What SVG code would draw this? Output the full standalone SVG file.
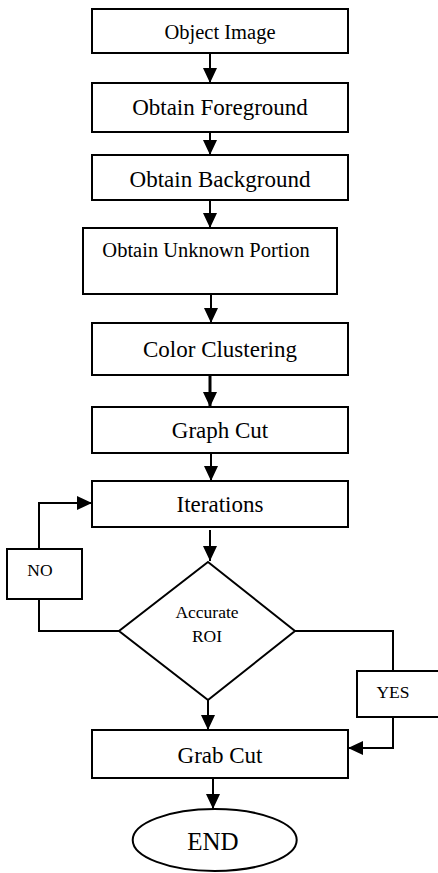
<svg xmlns="http://www.w3.org/2000/svg" width="438" height="873" viewBox="0 0 438 873">
<defs>
<style>
.b{fill:#fff;stroke:#000;stroke-width:2}
.t{font-family:"Liberation Serif","Times New Roman",serif;fill:#000;text-anchor:middle}
.c{fill:none;stroke:#000;stroke-width:2}
</style>
<marker id="ah" markerUnits="userSpaceOnUse" markerWidth="16" markerHeight="16" viewBox="0 0 16 16" refX="15" refY="8" orient="auto">
<path d="M0,1 L15,8 L0,15 Z" fill="#000"/>
</marker>
</defs>
<rect width="438" height="873" fill="#fff"/>
<g id="connectors">
<line class="c" x1="210" y1="53" x2="210" y2="83" marker-end="url(#ah)"/>
<line class="c" x1="210" y1="132" x2="210" y2="155" marker-end="url(#ah)"/>
<line class="c" x1="210" y1="196" x2="210" y2="228" marker-end="url(#ah)"/>
<line class="c" x1="211" y1="294" x2="211" y2="323" marker-end="url(#ah)"/>
<line class="c" x1="210" y1="375" x2="210" y2="407" style="stroke-width:3" marker-end="url(#ah)"/>
<line class="c" x1="211" y1="453" x2="211" y2="481" marker-end="url(#ah)"/>
<line class="c" x1="210" y1="530" x2="210" y2="561" marker-end="url(#ah)"/>
<line class="c" x1="208" y1="700" x2="208" y2="730" marker-end="url(#ah)"/>
<line class="c" x1="213" y1="778" x2="213" y2="809" marker-end="url(#ah)"/>
<polyline class="c" points="119,631 39,631 39,599"/>
<polyline class="c" points="39,549 39,503 92,503" marker-end="url(#ah)"/>
<polyline class="c" points="295,631 393,631 393,671"/>
<polyline class="c" points="393,717 393,748 348,748" marker-end="url(#ah)"/>
</g>
<g id="n1"><rect class="b" x="92" y="9" width="256" height="44"/><text class="t" x="220" y="39" font-size="20.5">Object Image</text></g>
<g id="n2"><rect class="b" x="92" y="83" width="256" height="49"/><text class="t" x="220" y="115" font-size="23">Obtain Foreground</text></g>
<g id="n3"><rect class="b" x="92" y="155" width="256" height="45"/><text class="t" x="220" y="187" font-size="23">Obtain Background</text></g>
<g id="n4"><rect class="b" x="83" y="228" width="254" height="66"/><text class="t" x="206" y="257" font-size="20.5">Obtain Unknown Portion</text></g>
<g id="n5"><rect class="b" x="92" y="323" width="256" height="52"/><text class="t" x="220" y="357" font-size="23">Color Clustering</text></g>
<g id="n6"><rect class="b" x="92" y="407" width="256" height="46"/><text class="t" x="220" y="438" font-size="23">Graph Cut</text></g>
<g id="n7"><rect class="b" x="92" y="481" width="256" height="46"/><text class="t" x="220" y="512" font-size="23">Iterations</text></g>
<g id="n8"><polygon class="b" points="208,562 295,631 208,700 119,631"/><text class="t" x="207" y="618" font-size="17.5">Accurate</text><text class="t" x="207" y="642" font-size="17.5">ROI</text></g>
<g id="n9"><rect class="b" x="7" y="549" width="75" height="50"/><text class="t" x="40" y="576" font-size="17.5">NO</text></g>
<g id="n10"><rect class="b" x="357" y="671" width="84" height="46"/><text class="t" x="393" y="698" font-size="17.5">YES</text></g>
<g id="n11"><rect class="b" x="92" y="730" width="256" height="48"/><text class="t" x="220" y="763" font-size="23">Grab Cut</text></g>
<g id="n12"><ellipse class="b" cx="214.7" cy="840" rx="82" ry="31"/><text class="t" x="213" y="850" font-size="25">END</text></g>
</svg>
